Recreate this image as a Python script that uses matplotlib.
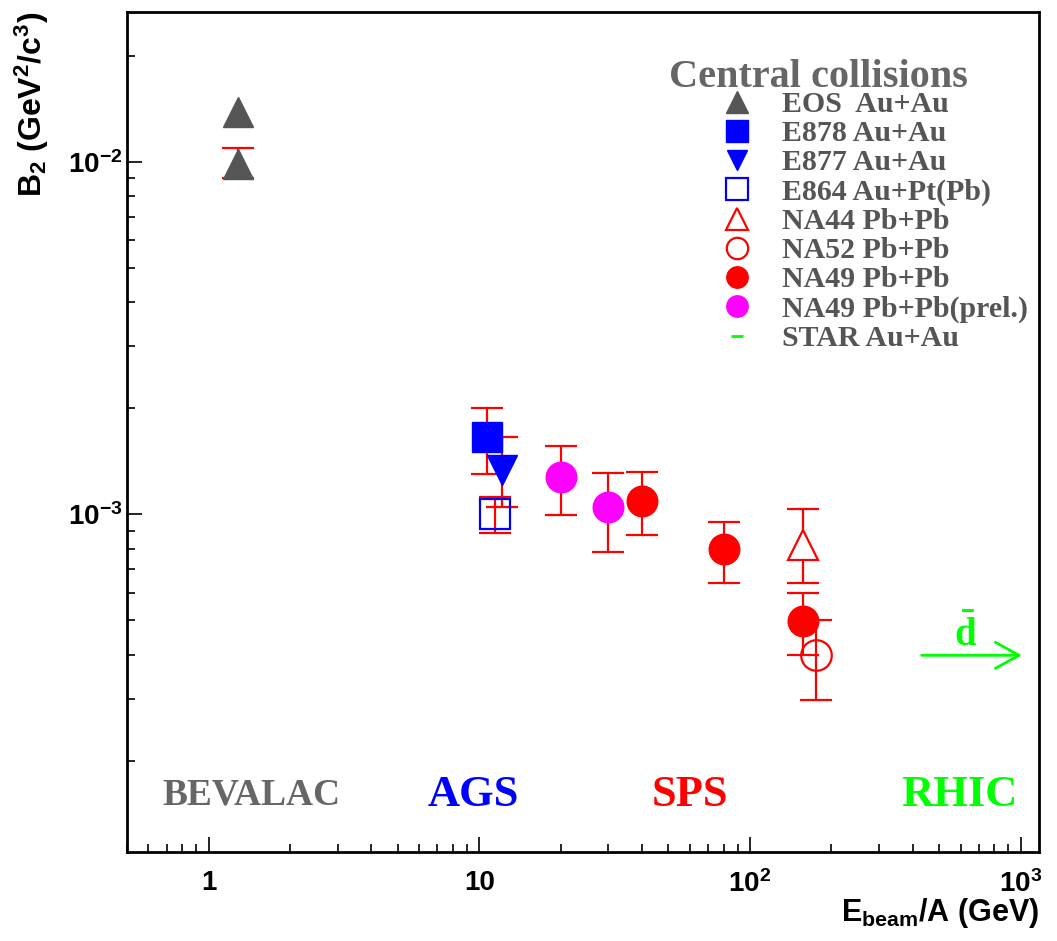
import matplotlib.pyplot as plt
import numpy as np
from matplotlib.ticker import FuncFormatter, NullFormatter, LogLocator
from matplotlib.lines import Line2D

plt.rcParams['mathtext.default'] = 'regular'

# EOS Au+Au (upper point has no error bar)
eos_x = np.array([1.28, 1.28])
eos_y = np.array([0.0139, 0.0099])
eos_lo = np.array([np.nan, 0.0099 - 0.0090])
eos_hi = np.array([np.nan, 0.0110 - 0.0099])

# E878 Au+Au
e878_x = np.array([10.64])
e878_y = np.array([1.66e-3])
e878_lo = np.array([1.66e-3 - 1.30e-3])
e878_hi = np.array([2.00e-3 - 1.66e-3])

# E877 Au+Au
e877_x = np.array([12.1])
e877_y = np.array([1.335e-3])
e877_lo = np.array([1.335e-3 - 1.05e-3])
e877_hi = np.array([1.66e-3 - 1.335e-3])

# E864 Au+Pt(Pb)
e864_x = np.array([11.39])
e864_y = np.array([1.0e-3])
e864_lo = np.array([1.0e-3 - 8.85e-4])
e864_hi = np.array([1.12e-3 - 1.0e-3])

# NA44 Pb+Pb
na44_x = np.array([157.])
na44_y = np.array([8.18e-4])
na44_lo = np.array([8.18e-4 - 6.38e-4])
na44_hi = np.array([1.035e-3 - 8.18e-4])

# NA52 Pb+Pb
na52_x = np.array([176.])
na52_y = np.array([3.98e-4])
na52_lo = np.array([3.98e-4 - 2.98e-4])
na52_hi = np.array([5.01e-4 - 3.98e-4])

# NA49 Pb+Pb
na49_x = np.array([40., 80., 157.])
na49_y = np.array([1.092e-3, 7.96e-4, 4.98e-4])
na49_up = np.array([1.318e-3, 9.5e-4, 5.97e-4])
na49_dn = np.array([8.73e-4, 6.38e-4, 3.98e-4])

# NA49 Pb+Pb (prel.)
na49p_x = np.array([20., 30.])
na49p_y = np.array([1.277e-3, 1.05e-3])
na49p_up = np.array([1.56e-3, 1.31e-3])
na49p_dn = np.array([9.96e-4, 7.82e-4])

# STAR anti-deuteron arrow (lower limit)
star_x0, star_x1, star_y = 431., 1011., 3.98e-4

gray = '#555555'
red = '#ff0000'
blue = '#0000ff'
green = '#00ff00'

fig = plt.figure(figsize=(10.57, 9.41), dpi=100)
ax = fig.add_axes([0.1202, 0.0946, 0.8628, 0.8926])

eb = dict(ecolor=red, elinewidth=1.6, capsize=11.5, capthick=1.6, linestyle='none')

h_eos = ax.errorbar(eos_x, eos_y, yerr=[eos_lo, eos_hi], fmt='^', ms=22, color=gray, **eb)
h_e878 = ax.errorbar(e878_x, e878_y, yerr=[e878_lo, e878_hi], fmt='s', ms=22, color=blue, **eb)
h_e864 = ax.errorbar(e864_x, e864_y, yerr=[e864_lo, e864_hi], fmt='s', ms=22, mfc='none',
                     mec=blue, mew=1.6, **eb)
h_e877 = ax.errorbar(e877_x, e877_y, yerr=[e877_lo, e877_hi], fmt='v', ms=21, color=blue, **eb)
h_na44 = ax.errorbar(na44_x, na44_y, yerr=[na44_lo, na44_hi], fmt='^', ms=22, mfc='white',
                     mec=red, mew=1.6, **eb)
h_na52 = ax.errorbar(na52_x, na52_y, yerr=[na52_lo, na52_hi], fmt='o', ms=22, mfc='none',
                     mec=red, mew=1.6, **eb)
h_na49 = ax.errorbar(na49_x, na49_y, yerr=[na49_y - na49_dn, na49_up - na49_y], fmt='o', ms=22,
                     color=red, **eb)
h_na49p = ax.errorbar(na49p_x, na49p_y, yerr=[na49p_y - na49p_dn, na49p_up - na49p_y], fmt='o',
                      ms=22, color='#ff00ff', **eb)
h_star = Line2D([], [], marker='_', ms=12, mew=2, color=green, linestyle='none')

ax.annotate('', xy=(star_x1, star_y), xytext=(star_x0, star_y),
            arrowprops=dict(arrowstyle='->,head_length=0.85,head_width=0.47', color=green,
                            lw=2, mutation_scale=20, shrinkA=0, shrinkB=0))
ax.text(np.sqrt(star_x0 * star_x1) * 0.95, star_y * 1.0, r'$\bar{d}$', color=green,
        fontsize=28, fontweight='bold', family='Liberation Serif', ha='center', va='bottom')

ax.set_xscale('log')
ax.set_yscale('log')
ax.set_xlim(0.5, 1170)
ax.set_ylim(1.1e-4, 2.67e-2)

def xfmt(v, pos):
    e = int(round(np.log10(v)))
    if e == 0:
        return '1'
    if e == 1:
        return '10'
    return r'$10^{%d}$' % e

def yfmt(v, pos):
    e = int(round(np.log10(v)))
    return r'$10^{%d}$' % e

ax.xaxis.set_major_locator(LogLocator(base=10))
ax.xaxis.set_minor_locator(LogLocator(base=10, subs=np.arange(2, 10)))
ax.yaxis.set_major_locator(LogLocator(base=10))
ax.yaxis.set_minor_locator(LogLocator(base=10, subs=np.arange(2, 10)))
ax.xaxis.set_major_formatter(FuncFormatter(xfmt))
ax.yaxis.set_major_formatter(FuncFormatter(yfmt))
ax.xaxis.set_minor_formatter(NullFormatter())
ax.yaxis.set_minor_formatter(NullFormatter())

ax.tick_params(which='both', direction='in', top=False, right=False, width=1.2)
ax.tick_params(which='major', length=11)
ax.tick_params(which='minor', length=6)
ax.tick_params(axis='x', which='major', pad=13)
ax.tick_params(axis='y', which='major', pad=3)
for lab in ax.get_xticklabels() + ax.get_yticklabels():
    lab.set_fontsize(20)
    lab.set_fontweight('bold')
    lab.set_family('Liberation Sans')
for s in ax.spines.values():
    s.set_linewidth(2)

ax.set_xlabel(r'E$_{beam}$/A (GeV)', fontsize=22, fontweight='bold', family='Liberation Sans',
              loc='right')
ax.xaxis.set_label_coords(1.0, -0.052)
ax.set_ylabel(r'B$_2$ (GeV$^2$/c$^3$)', fontsize=23, fontweight='bold', family='Liberation Sans',
              loc='top')
ax.yaxis.set_label_coords(-0.083, 1.0)

# accelerator labels
lab_kw = dict(transform=ax.transAxes, fontsize=32, fontweight='bold', family='Liberation Serif',
              ha='center', va='center')
ax.text(0.137, 0.068, 'BEVALAC', color='#666666', **dict(lab_kw, fontsize=27))
ax.text(0.380, 0.068, 'AGS', color=blue, **lab_kw)
ax.text(0.617, 0.068, 'SPS', color=red, **lab_kw)
ax.text(0.913, 0.068, 'RHIC', color=green, **lab_kw)

# legend
ax.text(0.758, 0.922, 'Central collisions', transform=ax.transAxes, fontsize=29,
        fontweight='bold', family='Liberation Serif', color='#666666', ha='center', va='center')
handles = [h_eos[0], h_e878[0], h_e877[0], h_e864[0], h_na44[0], h_na52[0], h_na49[0],
           h_na49p[0], h_star]
labels = ['EOS  Au+Au', 'E878 Au+Au', 'E877 Au+Au', 'E864 Au+Pt(Pb)', 'NA44 Pb+Pb',
          'NA52 Pb+Pb', 'NA49 Pb+Pb', 'NA49 Pb+Pb(prel.)', 'STAR Au+Au']
leg = ax.legend(handles, labels, loc='upper left', bbox_to_anchor=(0.649, 0.906),
                frameon=False, borderpad=0, borderaxespad=0, labelspacing=0.073,
                handlelength=1.2, handletextpad=0.91, markerscale=0.7,
                prop={'family': 'Liberation Serif', 'weight': 'bold', 'size': 21.5})
for t in leg.get_texts():
    t.set_color(gray)

fig.savefig('out.png', dpi=100)
